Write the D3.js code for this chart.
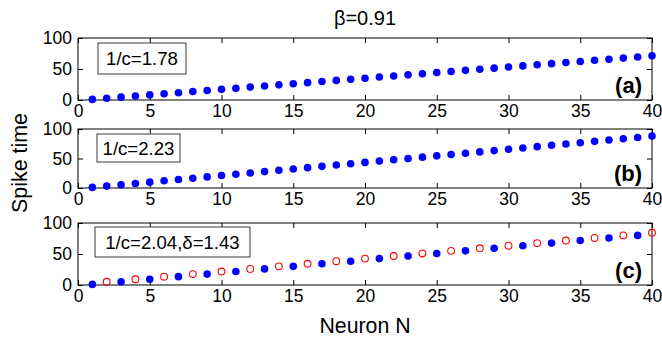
<!DOCTYPE html>
<html>
<head>
<meta charset="utf-8">
<script src="https://cdn.jsdelivr.net/npm/d3@7"></script>
<style>
  body { margin: 0; background: #fff; }
  svg text { font-family: "Liberation Sans", Arial, sans-serif; }
</style>
</head>
<body>
<div id="chart"></div>
<script>
// spike times, neuron N = 1..40
const neurons = d3.range(1, 41);
const spikeA = [1.0, 2.8, 4.6, 6.4, 8.2, 10.0, 11.8, 13.6, 15.4, 17.2, 19.0, 20.8, 22.6, 24.4, 26.2, 28.0, 29.8, 31.6, 33.4, 35.2,
  37.0, 38.8, 40.6, 42.4, 44.2, 46.0, 47.8, 49.6, 51.4, 53.2, 55.0, 56.8, 58.6, 60.4, 62.2, 64.0, 65.8, 67.6, 69.4, 71.2];
const spikeB = [1.0, 3.2, 5.5, 7.7, 9.9, 12.2, 14.4, 16.6, 18.8, 21.1, 23.3, 25.5, 27.8, 30.0, 32.2, 34.5, 36.7, 38.9, 41.1, 43.4,
  45.6, 47.8, 50.1, 52.3, 54.5, 56.8, 59.0, 61.2, 63.4, 65.7, 67.9, 70.1, 72.4, 74.6, 76.8, 79.1, 81.3, 83.5, 85.7, 88.0];
// panel (c): odd neurons filled blue, even neurons open red
const oddN = d3.range(1, 41, 2);
const spikeCOdd = [1.0, 5.2, 9.3, 13.5, 17.6, 21.8, 26.0, 30.1, 34.3, 38.4, 42.6, 46.8, 50.9, 55.1, 59.2, 63.4, 67.6, 71.7, 75.9, 80.0];
const evenN = d3.range(2, 41, 2);
const spikeCEven = [5.2, 9.3, 13.5, 17.6, 21.8, 26.0, 30.1, 34.3, 38.4, 42.6, 46.8, 50.9, 55.1, 59.2, 63.4, 67.6, 71.7, 75.9, 80.0, 84.2];

const xTicks = [0, 5, 10, 15, 20, 25, 30, 35, 40];
const yTicks = [0, 50, 100];
const panelTags = ["(a)", "(b)", "(c)"];
const boxLabels = ["1/c=1.78", "1/c=2.23", "1/c=2.04,\u03b4=1.43"];

const W = 662, H = 342;
const svg = d3.select('#chart').append('svg').attr('width', W).attr('height', H);

const x = d3.scaleLinear().domain([0, 40]).range([78, 652]);

const panels = [
  { top: 38, bottom: 100, series: [{ n: neurons, v: spikeA, open: false }], box: { dx: 20, dy: 5, w: 88, h: 31 } },
  { top: 129, bottom: 188, series: [{ n: neurons, v: spikeB, open: false }], box: { dx: 19, dy: 5, w: 83, h: 28 } },
  { top: 223, bottom: 285, series: [{ n: oddN, v: spikeCOdd, open: false }, { n: evenN, v: spikeCEven, open: true }], box: { dx: 17, dy: 4, w: 155, h: 30 } }
];

panels.forEach((p, i) => {
  const y = d3.scaleLinear().domain([0, 100]).range([p.bottom, p.top]);
  const g = svg.append('g');

  // frame
  g.append('rect')
    .attr('x', x(0)).attr('y', y(100))
    .attr('width', x(40) - x(0)).attr('height', y(0) - y(100))
    .attr('fill', 'none').attr('stroke', '#000').attr('stroke-width', 1);

  const bottom = g.append('g').attr('transform', `translate(0,${y(0)})`)
    .call(d3.axisBottom(x).tickValues(xTicks).tickSize(-5).tickPadding(5).tickSizeOuter(0));
  const top = g.append('g').attr('transform', `translate(0,${y(100)})`)
    .call(d3.axisTop(x).tickValues(xTicks).tickSize(-5).tickFormat('').tickSizeOuter(0));
  const left = g.append('g').attr('transform', `translate(${x(0)},0)`)
    .call(d3.axisLeft(y).tickValues(yTicks).tickSize(-5).tickPadding(6).tickSizeOuter(0));
  const right = g.append('g').attr('transform', `translate(${x(40)},0)`)
    .call(d3.axisRight(y).tickValues(yTicks).tickSize(-5).tickFormat('').tickSizeOuter(0));

  [bottom, top, left, right].forEach(a => {
    a.select('.domain').remove();
    a.selectAll('text').attr('font-size', 17.5).attr('fill', '#000')
      .attr('font-family', '"Liberation Sans", Arial, sans-serif');
  });

  // data
  p.series.forEach(s => {
    g.selectAll(null).data(s.n).enter().append('circle')
      .attr('cx', d => x(d))
      .attr('cy', (d, k) => y(s.v[k]))
      .attr('r', s.open ? 3.4 : 3.8)
      .attr('fill', s.open ? 'none' : '#0000ff')
      .attr('stroke', s.open ? '#ff0000' : 'none')
      .attr('stroke-width', 1.1);
  });

  // parameter box
  const b = p.box;
  const bx = x(0) + b.dx, by = y(100) + b.dy;
  g.append('rect')
    .attr('x', bx).attr('y', by).attr('width', b.w).attr('height', b.h)
    .attr('fill', '#fff').attr('stroke', '#3a3a3a').attr('stroke-width', 1);
  g.append('text')
    .attr('x', bx + b.w / 2).attr('y', by + b.h / 2 + 6.7)
    .attr('text-anchor', 'middle').attr('font-size', 18.6)
    .text(boxLabels[i]);

  // panel tag
  g.append('text')
    .attr('x', x(40) - 10).attr('y', y(0) - 7)
    .attr('text-anchor', 'end').attr('font-size', 22).attr('font-weight', 'bold')
    .text(panelTags[i]);
});

svg.append('text')
  .attr('x', x(20)).attr('y', 25)
  .attr('text-anchor', 'middle').attr('font-size', 20)
  .text('\u03b2=0.91');

svg.append('text')
  .attr('x', x(20)).attr('y', 333)
  .attr('text-anchor', 'middle').attr('font-size', 21.3)
  .text('Neuron N');

svg.append('text')
  .attr('transform', 'translate(27,163) rotate(-90)')
  .attr('text-anchor', 'middle').attr('font-size', 21.4)
  .text('Spike time');
</script>
</body>
</html>
